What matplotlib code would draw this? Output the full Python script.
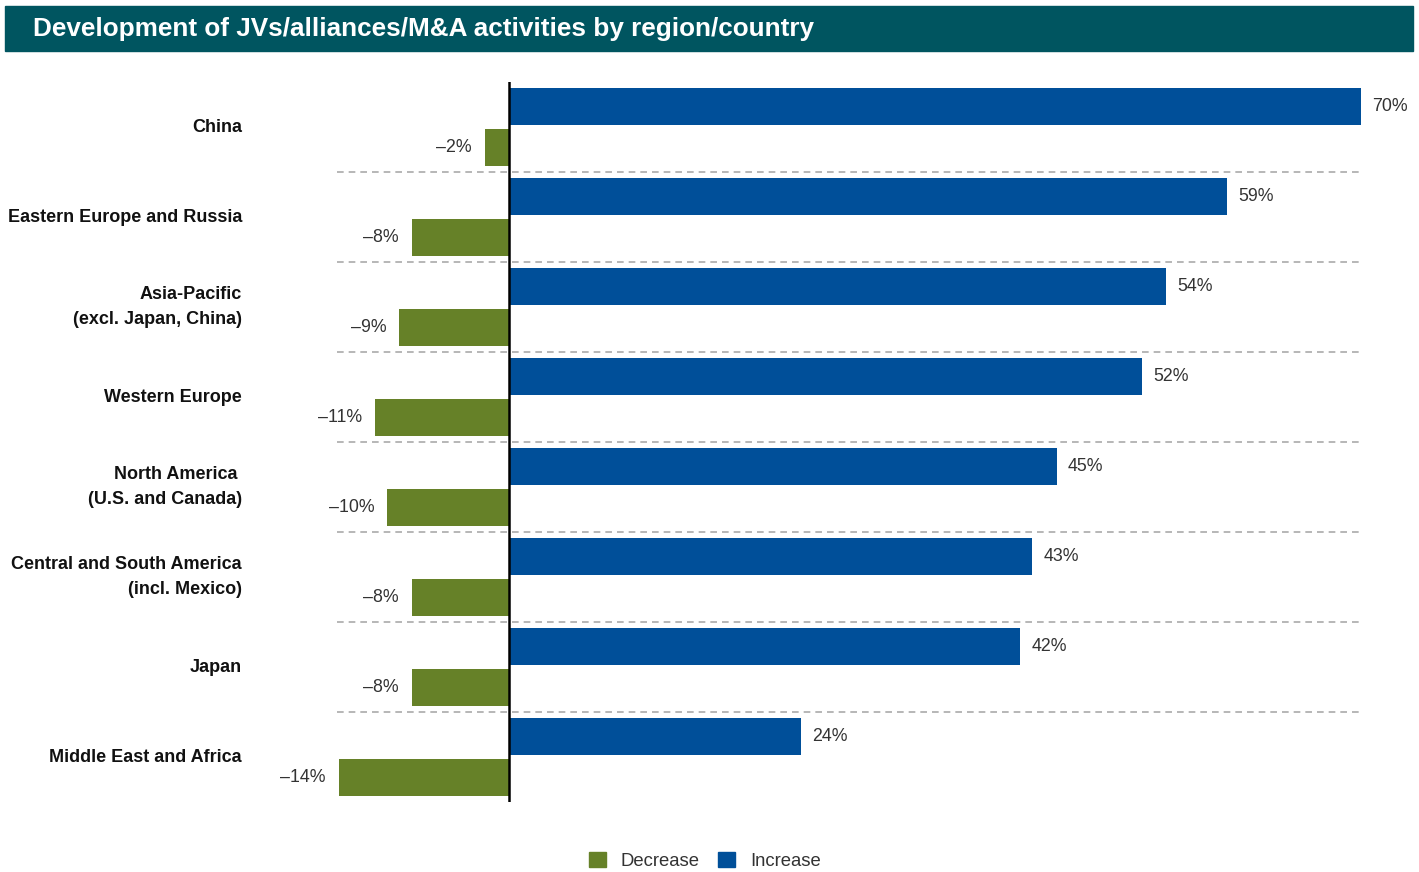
import matplotlib
matplotlib.use("Agg")
import matplotlib.pyplot as plt
from matplotlib.patches import Rectangle, Patch

regions = ["China", "Eastern Europe and Russia", "Asia-Pacific\n(excl. Japan, China)",
           "Western Europe", "North America \n(U.S. and Canada)",
           "Central and South America\n(incl. Mexico)", "Japan", "Middle East and Africa"]
increase = [70, 59, 54, 52, 45, 43, 42, 24]
decrease = [-2, -8, -9, -11, -10, -8, -8, -14]

blue = "#004F99"
green = "#668128"
teal = "#005560"

W, H = 1419, 872
fig = plt.figure(figsize=(W / 100, H / 100), dpi=100)
plt.rcParams["font.family"] = ["Liberation Sans", "DejaVu Sans"]

# header band
fig.patches.append(Rectangle((5 / W, 1 - 51 / H), 1408 / W, 45 / H,
                             transform=fig.transFigure, color=teal, zorder=0))
fig.text(33 / W, 1 - 29 / H, "Development of JVs/alliances/M&A activities by region/country",
         color="white", fontsize=18.8, fontweight="bold", va="center", ha="left")

ax = fig.add_axes([337 / W, 1 - 802 / H, (1361 - 337) / W, 720 / H])
ypos = list(range(len(regions)))
off = 0.228
hgt = 0.41
ax.barh([y - off for y in ypos], increase, height=hgt, color=blue, zorder=2)
ax.barh([y + off for y in ypos], decrease, height=hgt, color=green, zorder=2)

ax.set_xlim(-14.13, 70)
ax.set_ylim(len(regions) - 0.5, -0.5)

for y, v in zip(ypos, increase):
    ax.annotate(f"{v}%", (v, y - off), xytext=(11, 0), textcoords="offset pixels",
                ha="left", va="center", fontsize=12.8, color="#333333")
for y, v in zip(ypos, decrease):
    ax.annotate(f"\u2013{abs(v)}%", (v, y + off), xytext=(-13, 0), textcoords="offset pixels",
                ha="right", va="center", fontsize=12.8, color="#333333")

for y in ypos[:-1]:
    ax.axhline(y + 0.5, color="#aaaaaa", lw=1.2, ls=(0, (4, 3)), zorder=1)

ax.axvline(0, color="black", lw=1.8, zorder=3)

for s in ax.spines.values():
    s.set_visible(False)
ax.set_xticks([])
ax.set_yticks([])

# category labels, right aligned left of the plot
for y, name in zip(ypos, regions):
    ax.annotate(name, (0, y), xycoords=("figure fraction", "data"),
                xytext=(242, 0), textcoords="offset pixels",
                ha="right", va="center", fontsize=13, fontweight="bold",
                color="#111111", linespacing=1.6)

handles = [Patch(color=green, label="Decrease"), Patch(color=blue, label="Increase")]
fig.legend(handles=handles, loc="center", bbox_to_anchor=(705 / W, 1 - 861 / H), ncol=2,
           frameon=False, fontsize=13.3, handlelength=0.9, handleheight=0.9,
           handletextpad=0.8, columnspacing=1.0, labelcolor="#333333")

fig.savefig("out.png", dpi=100)
